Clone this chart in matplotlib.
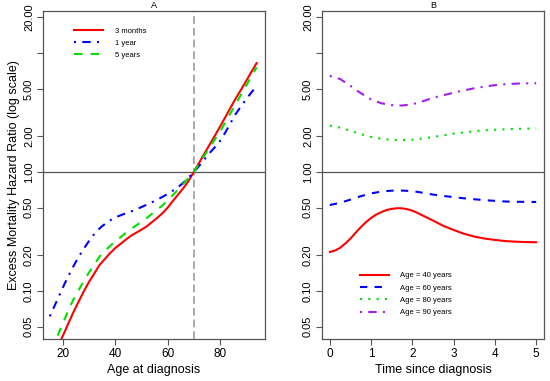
import matplotlib
matplotlib.use("Agg")
import matplotlib.pyplot as plt
from matplotlib.ticker import FixedLocator, NullLocator

plt.rcParams['font.family'] = ['Liberation Sans', 'DejaVu Sans']

# Panel A: hazard ratio vs age at diagnosis
age_3m = [18, 20, 22, 24, 26, 28, 30, 32, 34, 36, 38, 40, 42, 44, 46, 48, 50, 52, 54, 56, 58, 60, 62, 64, 66,
          68, 70, 72, 74, 76, 78, 80, 82, 84, 86, 88, 90, 92, 94]
hr_3m = [0.0333, 0.0419, 0.0526, 0.066, 0.081, 0.099, 0.119, 0.140, 0.165, 0.185, 0.207, 0.229, 0.248, 0.269,
         0.290, 0.308, 0.327, 0.348, 0.378, 0.41, 0.449, 0.50, 0.57, 0.645, 0.73, 0.84, 1.0, 1.19, 1.42, 1.69,
         2.01, 2.40, 2.88, 3.46, 4.15, 4.9, 5.82, 6.95, 8.24]
age_1y = [15, 17, 19, 21, 23, 25, 27, 29, 31, 33, 35, 37, 39, 41, 43, 45, 47, 49, 51, 53, 55, 57, 59, 61, 63,
          65, 67, 69, 70, 72, 74, 76, 78, 80, 82, 84, 86, 88, 90, 92, 93]
hr_1y = [0.061, 0.0762, 0.0955, 0.119, 0.146, 0.176, 0.209, 0.244, 0.283, 0.319, 0.350, 0.378, 0.403, 0.423,
         0.440, 0.456, 0.474, 0.495, 0.518, 0.542, 0.569, 0.60, 0.634, 0.673, 0.719, 0.776, 0.851, 0.944, 1.0,
         1.12, 1.27, 1.44, 1.61, 1.82, 2.14, 2.57, 3.07, 3.56, 4.09, 4.66, 4.97]
age_5y = [18, 20, 22, 24, 26, 28, 30, 32, 34, 36, 38, 40, 42, 44, 46, 48, 50, 52, 54, 56, 58, 60, 62, 64, 66,
          68, 70, 72, 74, 76, 78, 80, 82, 84, 86, 88, 90, 92, 94]
hr_5y = [0.042, 0.0533, 0.068, 0.0843, 0.101, 0.121, 0.143, 0.166, 0.194, 0.216, 0.238, 0.260, 0.282, 0.306,
         0.330, 0.355, 0.380, 0.409, 0.444, 0.482, 0.522, 0.575, 0.638, 0.71, 0.795, 0.89, 1.0, 1.17, 1.37,
         1.60, 1.87, 2.18, 2.61, 3.12, 3.73, 4.46, 5.32, 6.37, 7.6]

# Panel B: hazard ratio vs time since diagnosis
time_40 = [0, 0.125, 0.25, 0.375, 0.5, 0.625, 0.75, 0.875, 1.0, 1.125, 1.25, 1.375, 1.5, 1.625, 1.75, 1.875,
           2.0, 2.125, 2.25, 2.5, 2.75, 3.0, 3.25, 3.5, 3.75, 4.0, 4.25, 4.5, 4.75, 5.0]
hr_age40 = [0.212, 0.218, 0.230, 0.25, 0.275, 0.308, 0.343, 0.378, 0.41, 0.438, 0.460, 0.478, 0.489, 0.495,
            0.494, 0.486, 0.472, 0.452, 0.43, 0.39, 0.352, 0.325, 0.302, 0.286, 0.275, 0.268, 0.262, 0.259,
            0.257, 0.256]
time_b = [0, 0.25, 0.5, 0.75, 1.0, 1.25, 1.5, 1.75, 2.0, 2.25, 2.5, 2.75, 3.0, 3.25, 3.5, 3.75, 4.0, 4.25, 4.5,
          4.75, 5.0]
hr_age60 = [0.527, 0.55, 0.585, 0.625, 0.66, 0.684, 0.696, 0.697, 0.69, 0.668, 0.645, 0.628, 0.614, 0.60,
            0.589, 0.579, 0.571, 0.564, 0.561, 0.56, 0.559]
hr_age80 = [2.45, 2.36, 2.22, 2.08, 1.97, 1.90, 1.86, 1.855, 1.87, 1.91, 1.97, 2.03, 2.10, 2.15, 2.20, 2.24,
            2.265, 2.285, 2.30, 2.315, 2.325]
hr_age90 = [6.43, 6.05, 5.3, 4.6, 4.08, 3.78, 3.65, 3.62, 3.71, 3.93, 4.2, 4.42, 4.64, 4.85, 5.06, 5.23,
            5.37, 5.47, 5.53, 5.56, 5.58]

yticks = [0.05, 0.10, 0.20, 0.50, 1.00, 2.00, 5.00, 10.0, 20.00]
ytick_labels = ["0.05", "0.10", "0.20", "0.50", "1.00", "2.00", "5.00", "", "20.00"]
xticks_a = [20, 40, 60, 80]
xticks_b = [0, 1, 2, 3, 4, 5]

RED = "#FF0000"
BLUE = "#0000FF"
GREEN = "#00E000"
PURPLE = "#A020F0"
FRAME = "#555555"
LW = 1.5

fig = plt.figure(figsize=(5.5, 3.81), dpi=100)
axA = fig.add_axes([43 / 550, 1 - 339 / 381, 222 / 550, 328 / 381])
axB = fig.add_axes([322 / 550, 1 - 339 / 381, 222 / 550, 328 / 381])


def style(ax, xticks, xlim):
    ax.set_yscale("log")
    ax.set_ylim(0.0393, 22.6)
    ax.set_xlim(*xlim)
    ax.yaxis.set_major_locator(FixedLocator(yticks))
    ax.yaxis.set_minor_locator(NullLocator())
    ax.set_yticklabels(ytick_labels, rotation=90, va="center", fontsize=8)
    ax.set_xticks(xticks)
    ax.set_xticklabels([str(t) for t in xticks], fontsize=8.5)
    ax.tick_params(direction="out", length=4.5, width=0.8, color=FRAME, pad=2)
    for s in ax.spines.values():
        s.set_color(FRAME)
        s.set_linewidth(0.9)
    ax.axhline(1.0, color="#555555", lw=0.9, zorder=1)


style(axA, xticks_a, (12.4, 97.2))
axA.axvline(70, color="#AAAAAA", lw=1.4, ls=(0, (4, 2)), zorder=1)
axA.plot(age_3m, hr_3m, color=RED, lw=LW, ls="-", label="3 months")
axA.plot(age_1y, hr_1y, color=BLUE, lw=LW, ls=(0, (1, 3, 4, 3)), label="1 year")
axA.plot(age_5y, hr_5y, color=GREEN, lw=LW, ls=(0, (4, 4)), label="5 years")
axA.set_xlabel("Age at diagnosis", fontsize=9, labelpad=3)
axA.set_ylabel("Excess Mortality Hazard Ratio (log scale)", fontsize=9, labelpad=3)
axA.set_title("A", fontsize=6.5, pad=2)
axA.legend(loc="upper left", bbox_to_anchor=(0.11, 0.97), frameon=False, fontsize=5.5,
           handlelength=3.8, handletextpad=1.5, labelspacing=0.6)

style(axB, xticks_b, (-0.19, 5.19))
axB.plot(time_40, hr_age40, color=RED, lw=LW, ls="-", label="Age = 40 years")
axB.plot(time_b, hr_age60, color=BLUE, lw=LW, ls=(0, (3.5, 3.5)), label="Age = 60 years")
axB.plot(time_b, hr_age80, color=GREEN, lw=LW, ls=(0, (1, 3)), label="Age = 80 years")
axB.plot(time_b, hr_age90, color=PURPLE, lw=LW, ls=(0, (1, 3, 4, 3)), label="Age = 90 years")
axB.set_xlabel("Time since diagnosis", fontsize=9, labelpad=3)
axB.set_title("B", fontsize=6.5, pad=2)
axB.legend(loc="upper left", bbox_to_anchor=(0.14, 0.225), frameon=False, fontsize=5.5,
           handlelength=3.8, handletextpad=1.5, labelspacing=0.65)

fig.savefig("out.png", dpi=100)
